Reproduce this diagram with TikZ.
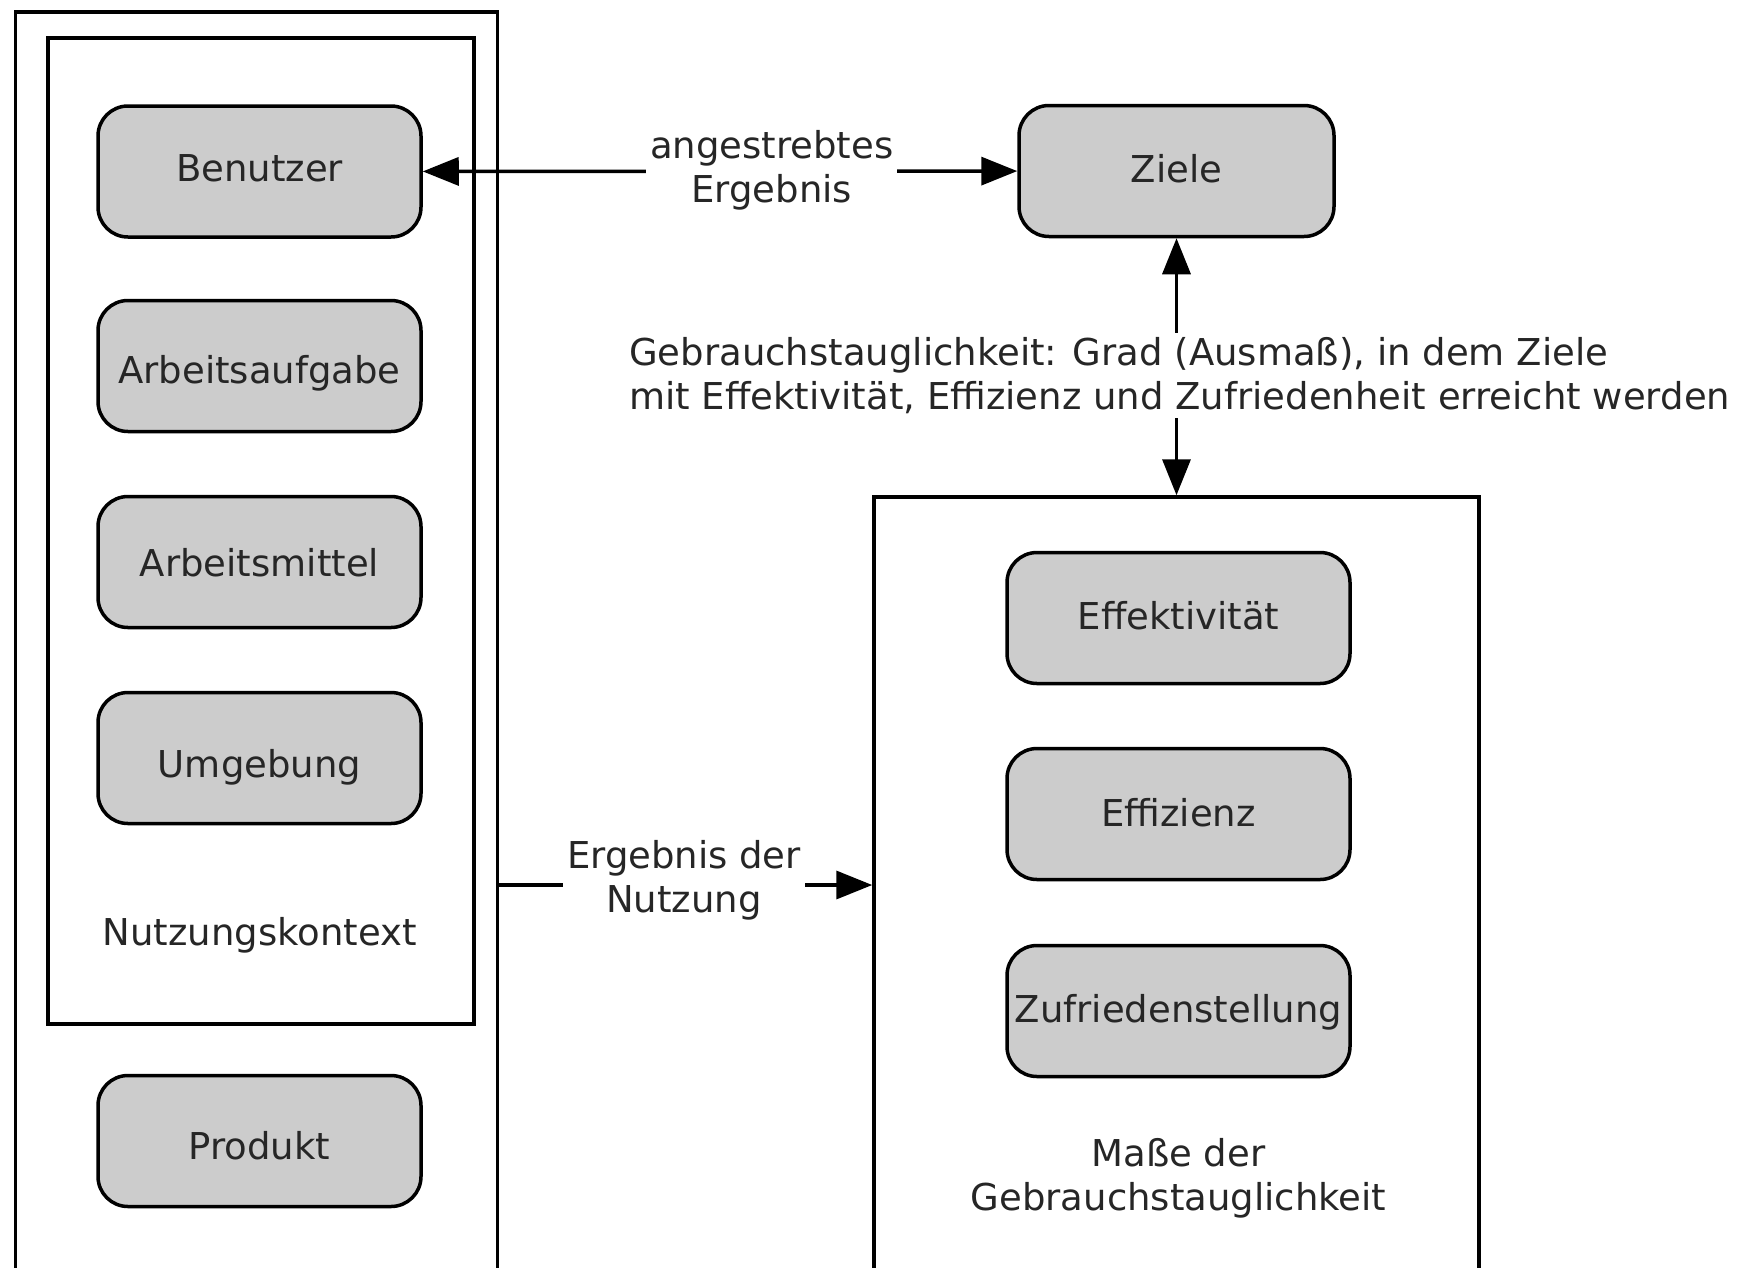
\documentclass[tikz,border=0pt]{standalone}
\usepackage{fontspec}
\setmainfont{DejaVu Sans}
\usetikzlibrary{arrows.meta}
\definecolor{boxfill}{HTML}{CCCCCC}
\definecolor{txt}{HTML}{262626}
\begin{document}
\begin{tikzpicture}[x=1pt,y=-1pt,
  every node/.style={font=\fontsize{37}{44}\selectfont, text=txt, align=center},
  item/.style={draw=black, line width=3.5pt, fill=boxfill, rounded corners=30pt,
    minimum width=323pt, minimum height=131pt, inner sep=0pt, text height=28pt, text depth=8pt},
  container/.style={draw=black, line width=3.5pt, inner sep=0pt},
  lbl/.style={fill=white, inner sep=4pt},
  arr/.style={line width=3.5pt, -{Triangle[length=36pt,width=28pt]}},
  arrboth/.style={line width=3.5pt, {Triangle[length=36pt,width=28pt]}-{Triangle[length=36pt,width=28pt]}}]
\useasboundingbox (0,0) rectangle (1750,1267);
\clip (0,0) rectangle (1750,1267);
% containers
\node[container, minimum width=482pt, minimum height=1288pt] (outer) at (256.7,656) {};
\node[container, minimum width=426pt, minimum height=986pt] (inner) at (261,531) {};
\node[container, minimum width=605pt, minimum height=803pt] (masse) at (1176.5,898.5) {};
% items left
\node[item] (benutzer) at (259.5,171.5) {Benutzer};
\node[item, text height=42pt] (aufgabe) at (259.5,366) {Arbeitsaufgabe};
\node[item, text height=36pt] (mittel) at (259.5,562) {Arbeitsmittel};
\node[item, text height=46pt] (umgebung) at (259.5,758) {Umgebung};
\node (kontext) at (259.5,935) {Nutzungskontext};
\node[item, text height=44pt] (produkt) at (259.5,1141) {Produkt};
% right
\node[item, minimum width=315pt, text height=30pt] (ziele) at (1176.5,171) {Ziele};
\node[item, minimum width=343pt, text height=30pt] (eff) at (1178.5,618) {Effektivität};
\node[item, minimum width=343pt, text height=32pt] (effz) at (1178.5,814) {Effizienz};
\node[item, minimum width=343pt, text height=30pt] (zuf) at (1178.5,1011) {Zufriedenstellung};
\node (massetxt) at (1178.5,1178) {Maße der\\Gebrauchstauglichkeit};
% connectors
\draw[arrboth] (benutzer) -- node[lbl, pos=0.587, yshift=1pt] (lblziel) {angestrebtes\\Ergebnis} (ziele);
\draw[arrboth] (ziele.south) -- node[lbl, pos=0.53, anchor=west, align=left, xshift=-553pt, yshift=-1pt] (lblgt) {Gebrauchstauglichkeit: Grad (Ausmaß), in dem Ziele\\mit Effektivität, Effizienz und Zufriedenheit erreicht werden} (masse.north);
\coordinate (a1) at (outer.east |- 0,885);
\coordinate (a2) at (masse.west |- 0,885);
\draw[arr] (a1) -- node[lbl, pos=0.495, yshift=5pt] (lblnutz) {Ergebnis der\\Nutzung} (a2);
\end{tikzpicture}
\end{document}
